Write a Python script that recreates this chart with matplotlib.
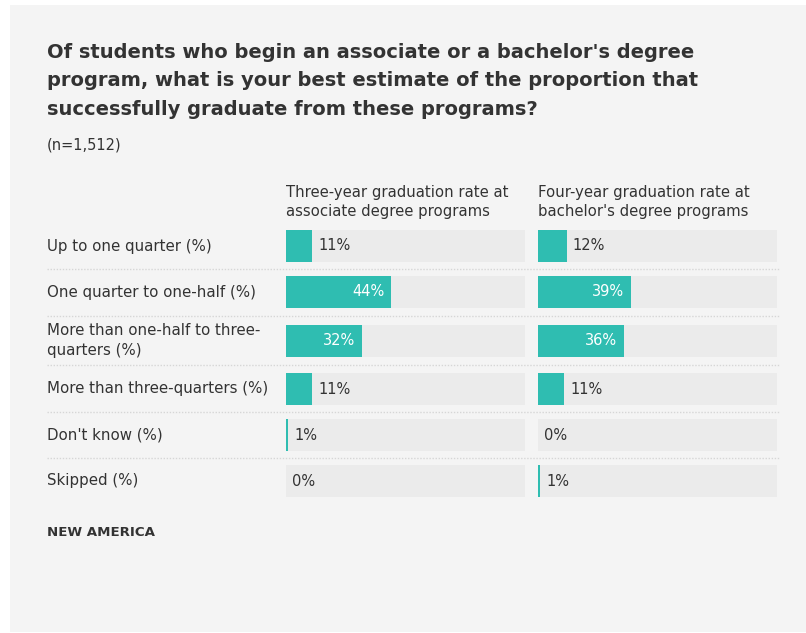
import matplotlib
matplotlib.use("Agg")
import matplotlib.pyplot as plt
from matplotlib.patches import Rectangle

# Survey responses
categories = [
    "Up to one quarter (%)",
    "One quarter to one-half (%)",
    "More than one-half to three-\nquarters (%)",
    "More than three-quarters (%)",
    "Don't know (%)",
    "Skipped (%)",
]
series_names = [
    "Three-year graduation rate at\nassociate degree programs",
    "Four-year graduation rate at\nbachelor's degree programs",
]
associate_rate = [11, 44, 32, 11, 1, 0]
bachelor_rate = [12, 39, 36, 11, 0, 1]

title = ("Of students who begin an associate or a bachelor's degree\n"
         "program, what is your best estimate of the proportion that\n"
         "successfully graduate from these programs?")
subtitle = "(n=1,512)"
source = "NEW AMERICA"

W, H = 806, 633
TEAL = "#2fbdb1"
TRACK = "#ebebeb"
PANEL = "#f4f4f4"
INK = "#333333"
FONT = "DejaVu Sans"

fig = plt.figure(figsize=(W / 100, H / 100), dpi=100)
fig.patch.set_facecolor("white")

# Pixel-space canvas for the panel and text
base = fig.add_axes([0, 0, 1, 1])
base.set_xlim(0, W)
base.set_ylim(H, 0)
base.axis("off")
base.add_patch(Rectangle((10, 5), W - 10, 627, facecolor=PANEL, edgecolor="none"))

base.text(47, 81, title, fontsize=14.0, fontweight="bold", color=INK, family=FONT,
          va="center", ha="left", linespacing=1.66)
base.text(47, 145, subtitle, fontsize=10.5, color=INK, family=FONT, va="center")

# Row geometry
row_centers = [246, 292, 340.5, 389, 435, 481]
separators = [269, 315.5, 365, 412, 458]
bar_h = 32

for lab, yc in zip(categories, row_centers):
    base.text(47, yc, lab, fontsize=10.8, color=INK, family=FONT, va="center",
              ha="left", linespacing=1.4)
for ys in separators:
    base.plot([47, 780], [ys, ys], color="#d6d6d6", lw=1, ls=(0, (1, 1.2)))

base.text(47, 533, source, fontsize=9.6, fontweight="bold", color=INK, family=FONT,
          va="center")

col_left = [286, 538]
col_width = 239
for x0, name, vals in zip(col_left, series_names, [associate_rate, bachelor_rate]):
    base.text(x0, 202, name, fontsize=10.7, color=INK, family=FONT, va="center",
              ha="left", linespacing=1.38)
    ax = fig.add_axes([x0 / W, 0, col_width / W, 1])
    ax.set_xlim(0, 100)
    ax.set_ylim(H, 0)
    ax.axis("off")
    ax.barh(row_centers, [100] * len(vals), height=bar_h, color=TRACK, left=0)
    ax.barh(row_centers, vals, height=bar_h, color=TEAL, left=0)
    for v, yc in zip(vals, row_centers):
        if v >= 25:
            ax.annotate(f"{v}%", (v, yc), xytext=(-7, 0), textcoords="offset pixels",
                        ha="right", va="center", color="white", fontsize=10.5, family=FONT)
        else:
            ax.annotate(f"{v}%", (v, yc), xytext=(6, 0), textcoords="offset pixels",
                        ha="left", va="center", color=INK, fontsize=10.5, family=FONT)

fig.savefig("out.png", dpi=100, facecolor=fig.get_facecolor())
